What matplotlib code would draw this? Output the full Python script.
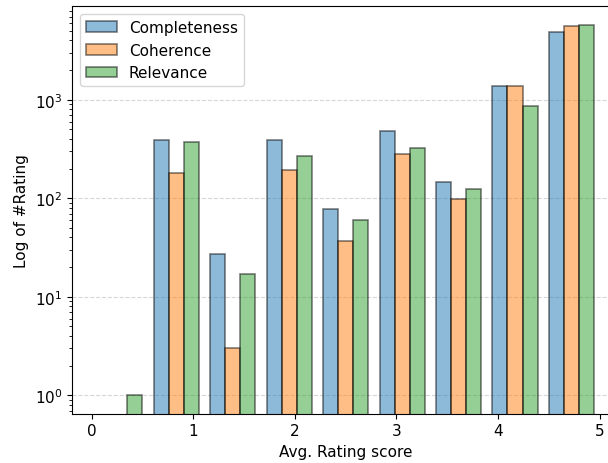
import numpy as np
import matplotlib
matplotlib.use("Agg")
import matplotlib.pyplot as plt

plt.rcParams["font.size"] = 11

# bins of the avg. rating score (9 equal bins from 0 to 5)
bin_edges = np.linspace(0, 5, 10)
series = ["Completeness", "Coherence", "Relevance"]
completeness = [0, 388, 27, 394, 78, 486, 146, 1380, 4880]
coherence = [0, 182, 3, 192, 37, 280, 98, 1380, 5570]
relevance = [1, 370, 17, 267, 60, 322, 123, 871, 5740]

centers = (bin_edges[:-1] + bin_edges[1:]) / 2

fig = plt.figure(figsize=(6.08, 4.64), dpi=100)
ax = fig.add_axes([0.119, 0.1063, 0.899, 0.878])

ax.hist([centers, centers, centers], bins=bin_edges,
        weights=[completeness, coherence, relevance],
        label=series, alpha=0.5, edgecolor="black", linewidth=1.2, log=True)

ax.set_xlim(-0.19, 5.19)
ax.set_ylim(0.65, 8900)
ax.set_xlabel("Avg. Rating score")
ax.set_ylabel("Log of #Rating")
ax.yaxis.grid(True, which="major", linestyle="--", alpha=0.5)
ax.set_axisbelow(True)
ax.legend(loc="upper left")

fig.savefig("out.png", dpi=100)
